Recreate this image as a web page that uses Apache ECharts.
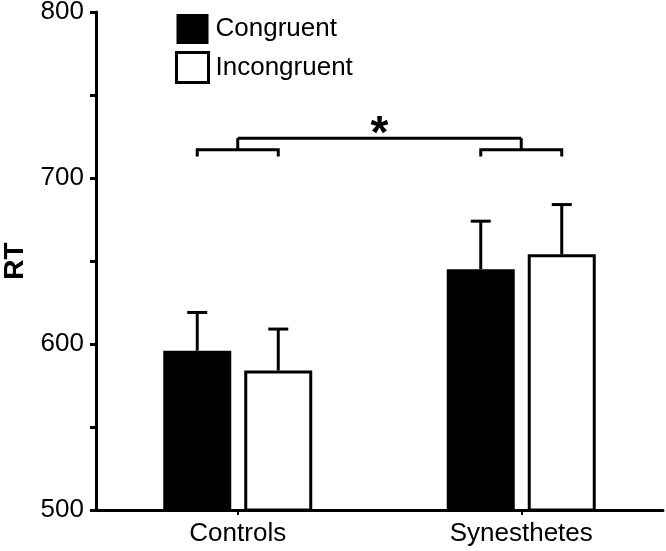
<!DOCTYPE html>
<html>
<head>
<meta charset="utf-8">
<script src="https://cdn.jsdelivr.net/npm/echarts@6/dist/echarts.min.js"></script>
<style>html,body{margin:0;padding:0;background:#fff}#c{width:666px;height:551px}</style>
</head>
<body>
<div id="c"></div>
<script>
var categories = ['Controls', 'Synesthetes'];
var seriesNames = ['Congruent', 'Incongruent'];
var congruent = [596, 645];
var incongruent = [584, 654];
var congruentErr = [23, 29];
var incongruentErr = [25, 30];
var yTicks = [500, 600, 700, 800];
// significance bracket levels (RT units)
var bracketArm = [717, 713];   // [horizontal level, arm end]
var bracketTop = 724;
var sigLabel = '*';

var FONT = 'Liberation Sans, Arial, Helvetica, sans-serif';
var BAR_W = 68, GAP_PX = 13;
var OFF = (BAR_W + GAP_PX) / 2;

var chart = echarts.init(document.getElementById('c'), null, {renderer: 'canvas'});

function errData(vals, errs) {
  return vals.map(function (v, i) { return [i, v, v + errs[i]]; });
}

function errRender(sign) {
  return function (params, api) {
    var i = api.value(0);
    var p0 = api.coord([i, api.value(1)]);
    var p1 = api.coord([i, api.value(2)]);
    var x = p0[0] + sign * OFF;
    var half = 10;
    return {
      type: 'group',
      children: [
        {type: 'line', shape: {x1: x, y1: p0[1], x2: x, y2: p1[1]}, style: {stroke: '#000', lineWidth: 3}},
        {type: 'line', shape: {x1: x - half, y1: p1[1], x2: x + half, y2: p1[1]}, style: {stroke: '#000', lineWidth: 3}}
      ]
    };
  };
}

function bracketRender(params, api) {
  var children = [];
  var st = {stroke: '#000', lineWidth: 3, fill: null};
  var centers = [];
  for (var i = 0; i < categories.length; i++) {
    var c = api.coord([i, bracketArm[0]]);
    var e = api.coord([i, bracketArm[1]]);
    var t = api.coord([i, bracketTop]);
    centers.push(t);
    children.push({type: 'polyline', shape: {points: [[c[0] - OFF, e[1]], [c[0] - OFF, c[1]], [c[0] + OFF, c[1]], [c[0] + OFF, e[1]]]}, style: st});
    children.push({type: 'line', shape: {x1: c[0], y1: c[1], x2: t[0], y2: t[1]}, style: st});
  }
  children.push({type: 'line', shape: {x1: centers[0][0], y1: centers[0][1], x2: centers[1][0], y2: centers[1][1]}, style: st});
  children.push({
    type: 'text',
    x: (centers[0][0] + centers[1][0]) / 2,
    y: centers[0][1] - 3,
    style: {text: sigLabel, fill: '#000', font: 'bold 46px ' + FONT, textAlign: 'center', textVerticalAlign: 'middle'}
  });
  return {type: 'group', children: children};
}

var option = {
  backgroundColor: '#fff',
  animation: false,
  grid: {left: 96, right: 3, top: 12, bottom: 41, containLabel: false, outerBoundsMode: 'none'},
  legend: {
    orient: 'vertical',
    left: 170,
    top: 9,
    icon: 'rect',
    itemWidth: 32,
    itemHeight: 30,
    itemGap: 7,
    textStyle: {fontFamily: FONT, fontSize: 26, color: '#000', padding: [0, 0, 0, 2]},
    data: [
      {name: seriesNames[0], itemStyle: {color: '#000', borderColor: '#000', borderWidth: 0}},
      {name: seriesNames[1], itemStyle: {color: '#fff', borderColor: '#000', borderWidth: 3}}
    ]
  },
  xAxis: {
    type: 'category',
    data: categories,
    axisLine: {lineStyle: {color: '#000', width: 3}},
    axisTick: {show: true, alignWithLabel: true, length: 5, lineStyle: {color: '#000', width: 2}},
    axisLabel: {color: '#000', fontFamily: FONT, fontSize: 26, margin: 11}
  },
  yAxis: {
    type: 'value',
    min: 500,
    max: 800,
    interval: 50,
    name: 'RT',
    nameLocation: 'middle',
    nameGap: 65,
    nameRotate: 90,
    nameTextStyle: {color: '#000', fontFamily: FONT, fontSize: 28, fontWeight: 'bold'},
    splitLine: {show: false},
    axisLine: {show: true, lineStyle: {color: '#000', width: 3}},
    axisTick: {show: true, length: 6, lineStyle: {color: '#000', width: 3}},
    axisLabel: {
      color: '#000', fontFamily: FONT, fontSize: 26, margin: 12,
      formatter: function (v) { return yTicks.indexOf(v) >= 0 ? String(v) : ''; }
    }
  },
  series: [
    {name: seriesNames[0], type: 'bar', data: congruent, barWidth: BAR_W, barGap: (GAP_PX / BAR_W * 100).toFixed(1) + '%',
     itemStyle: {color: '#000', borderColor: '#000', borderWidth: 0}},
    {name: seriesNames[1], type: 'bar', data: incongruent, barWidth: BAR_W,
     itemStyle: {color: '#fff', borderColor: '#000', borderWidth: 3}},
    {type: 'custom', data: errData(congruent, congruentErr), renderItem: errRender(-1), z: 1, silent: true},
    {type: 'custom', data: errData(incongruent, incongruentErr), renderItem: errRender(1), z: 1, silent: true},
    {type: 'custom', data: [[0, bracketTop]], renderItem: bracketRender, z: 5, silent: true}
  ]
};
chart.setOption(option);
</script>
</body>
</html>
